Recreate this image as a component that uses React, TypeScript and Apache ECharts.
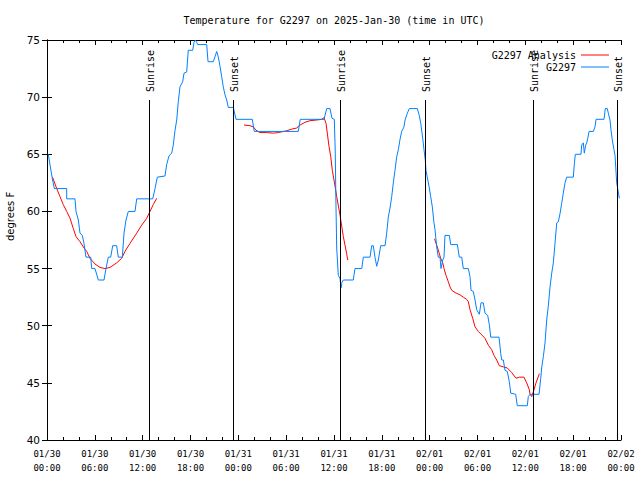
import React, { useEffect, useRef } from "react";
import * as echarts from "echarts";

// Hours since 2025-01-30 00:00 UTC
const xTickLabels = [
  "01/30\n00:00", "01/30\n06:00", "01/30\n12:00", "01/30\n18:00",
  "01/31\n00:00", "01/31\n06:00", "01/31\n12:00", "01/31\n18:00",
  "02/01\n00:00", "02/01\n06:00", "02/01\n12:00", "02/01\n18:00",
  "02/02\n00:00",
];

const sunEventHours = [12.83, 23.38, 36.76, 47.47, 60.9, 71.48];
const sunEventLabels = ["Sunrise", "Sunset", "Sunrise", "Sunset", "Sunrise", "Sunset"];

const observedTemps: [number, number][] = [
  [0.16, 65.0], [0.66, 62.9], [0.92, 62.0], [2.47, 62.0], [2.47, 61.1], [3.51, 61.1], [3.64, 60.0], [3.93, 59.25],
  [4.14, 58.1], [4.43, 57.9], [4.64, 57.2], [4.89, 56.0], [5.48, 56.0], [5.61, 55.0], [6.02, 55.0], [6.44, 54.0],
  [7.15, 54.0], [7.4, 55.0], [7.69, 56.0], [7.99, 56.0], [8.24, 57.0], [8.74, 57.0], [8.94, 56.0], [9.45, 56.0],
  [9.66, 58.1], [9.91, 59.25], [10.2, 60.0], [11.04, 60.0], [11.25, 61.1], [13.26, 61.1], [13.55, 62.0], [13.84, 63.0],
  [14.8, 63.1], [15.01, 64.1], [15.3, 64.85], [15.64, 65.1], [15.84, 65.8], [16.06, 67.1], [16.27, 68.0], [16.47, 69.6],
  [16.68, 70.9], [17.02, 71.35], [17.19, 72.1], [17.52, 72.2], [17.72, 74.1], [18.28, 74.1], [18.44, 74.8], [18.6, 75.0],
  [18.78, 74.8], [18.9, 74.6], [20.03, 74.6], [20.2, 73.1], [20.86, 73.1], [21.29, 74.0], [21.49, 73.5], [21.7, 72.7],
  [21.91, 71.8], [22.11, 70.9], [22.33, 70.2], [22.54, 69.75], [22.74, 69.1], [23.37, 69.1], [23.71, 68.06], [25.75, 68.06],
  [26.0, 67.0], [31.52, 67.0], [31.77, 68.06], [34.75, 68.06], [35.09, 69.0], [35.5, 69.0], [35.75, 68.15], [36.04, 68.06],
  [36.16, 65.1], [36.25, 60.4], [36.34, 56.8], [36.54, 54.4], [36.75, 54.15], [36.88, 53.3], [37.0, 53.8], [37.17, 54.0],
  [38.42, 54.0], [38.63, 55.0], [39.48, 55.0], [39.68, 56.0], [40.52, 56.0], [40.73, 57.0], [40.93, 57.0], [41.14, 56.0],
  [41.36, 55.2], [41.56, 55.75], [41.86, 57.0], [42.4, 57.0], [42.61, 58.1], [42.81, 59.5], [43.03, 60.3], [43.24, 61.3],
  [43.44, 62.5], [43.65, 63.6], [43.87, 64.8], [44.07, 65.4], [44.28, 66.3], [44.49, 67.0], [44.78, 67.4], [44.91, 68.0],
  [45.2, 68.6], [45.45, 69.0], [46.45, 69.0], [46.7, 68.4], [46.88, 67.7], [47.13, 66.4], [47.29, 65.4], [47.45, 64.5],
  [47.54, 63.6], [47.7, 63.0], [47.92, 62.2], [48.13, 61.3], [48.33, 60.4], [48.54, 59.0], [48.67, 58.4], [48.88, 56.9],
  [49.08, 56.0], [49.3, 56.0], [49.42, 55.0], [49.64, 55.75], [49.8, 56.0], [49.92, 57.9], [50.47, 57.9], [50.64, 57.1],
  [51.47, 57.1], [51.72, 56.0], [52.02, 56.0], [52.22, 55.0], [52.85, 55.0], [53.06, 54.3], [53.19, 53.1], [53.47, 53.0],
  [53.69, 52.25], [53.9, 51.4], [54.23, 51.0], [54.44, 52.0], [54.73, 52.0], [54.94, 51.1], [55.28, 50.9], [55.48, 50.1],
  [55.66, 49.0], [56.7, 49.0], [56.91, 47.6], [57.04, 47.0], [57.24, 47.0], [57.45, 46.1], [57.74, 46.0], [57.99, 45.1],
  [58.17, 44.1], [58.79, 44.0], [58.99, 43.0], [60.25, 43.0], [60.37, 43.8], [60.59, 44.0], [61.72, 44.0], [61.93, 45.4],
  [62.06, 46.4], [62.26, 47.3], [62.47, 48.5], [62.68, 50.5], [62.88, 51.7], [63.1, 53.4], [63.31, 54.6], [63.51, 55.5],
  [63.72, 57.2], [63.94, 59.0], [64.14, 59.1], [64.35, 59.8], [64.56, 60.7], [64.76, 61.6], [64.98, 62.5], [65.19, 63.0],
  [66.02, 63.0], [66.14, 64.1], [66.27, 65.0], [66.98, 65.0], [67.07, 65.8], [67.27, 66.0], [67.4, 65.1], [67.57, 65.8],
  [67.7, 66.0], [67.83, 66.4], [67.99, 67.0], [68.53, 67.0], [68.74, 67.4], [68.87, 68.06], [69.87, 68.06], [70.03, 69.0],
  [70.28, 69.0], [70.41, 68.6], [70.62, 68.0], [70.75, 67.1], [70.91, 66.25], [71.12, 65.4], [71.25, 64.9], [71.46, 62.5],
  [71.66, 61.7], [71.79, 61.15],
];

const analysisSeg1: [number, number][] = [
  [0.69, 63.0], [1.22, 62.0], [1.63, 61.3], [2.04, 60.6], [2.47, 60.0], [2.89, 59.4], [3.3, 58.5], [3.64, 57.8],
  [4.14, 57.35], [4.55, 56.9], [4.98, 56.5], [5.39, 55.9], [6.02, 55.4], [6.65, 55.1], [7.28, 55.0], [7.9, 55.1],
  [8.74, 55.5], [9.37, 55.9], [9.78, 56.5], [10.41, 57.2], [11.25, 58.1], [11.88, 58.8], [12.51, 59.4], [12.92, 60.0],
  [13.33, 60.6], [13.76, 61.15],
];

const analysisSeg2: [number, number][] = [
  [24.71, 67.56], [25.46, 67.5], [25.88, 67.4], [26.22, 67.1], [26.72, 66.9], [27.56, 66.9], [28.39, 66.85], [29.01, 66.9],
  [30.07, 67.06], [30.69, 67.2], [31.32, 67.3], [31.74, 67.56], [32.36, 67.8], [32.99, 67.94], [33.83, 68.0], [34.46, 68.06],
  [34.75, 68.2], [35.0, 67.7], [35.16, 66.85], [35.37, 65.7], [35.59, 64.8], [35.79, 63.6], [36.0, 62.75], [36.34, 61.3],
  [36.75, 59.7], [37.17, 57.8], [37.59, 56.3], [37.72, 55.75],
];

const analysisSeg3: [number, number][] = [
  [48.61, 57.6], [48.96, 56.9], [49.21, 56.3], [49.39, 55.9], [49.64, 55.5], [49.8, 55.0], [50.05, 54.4], [50.34, 53.85],
  [50.55, 53.4], [50.77, 53.1], [51.18, 52.9], [51.81, 52.7], [52.22, 52.5], [52.65, 52.3], [52.85, 52.1], [53.06, 51.4],
  [53.4, 50.65], [53.69, 49.9], [54.1, 49.5], [54.53, 49.2], [54.94, 48.9], [55.36, 48.3], [55.78, 47.9], [56.07, 47.4],
  [56.41, 47.0], [56.74, 46.5], [57.24, 46.4], [57.74, 46.3], [58.29, 45.9], [58.83, 45.4], [59.25, 45.5], [59.83, 45.5],
  [60.17, 45.0], [60.5, 44.4], [60.59, 44.0], [60.8, 43.8], [61.0, 44.2], [61.34, 45.0], [61.76, 45.8],
];

const MONO = "DejaVu Sans Mono";
const RED = "#ff0000";
const BLUE = "#0080ff";

export default function App() {
  const ref = useRef<HTMLDivElement>(null);

  useEffect(() => {
    if (!ref.current) return;
    const chart = echarts.init(ref.current, null, { renderer: "svg" });

    const analysisLine = (data: [number, number][]) => ({
      name: "G2297 Analysis",
      type: "line",
      data,
      symbol: "none",
      lineStyle: { color: RED, width: 1 },
      itemStyle: { color: RED },
      xAxisIndex: 0,
      yAxisIndex: 0,
      z: 2,
    });

    const axisCommon = {
      axisLine: { show: true, lineStyle: { color: "#000", width: 1 } },
      splitLine: { show: false },
    };

    const legendCommon = {
      padding: 0,
      right: 31,
      align: "right",
      icon: "rect",
      itemWidth: 28,
      itemHeight: 1,
      textStyle: { fontFamily: MONO, fontSize: 10, color: "#000" },
      selectedMode: false,
    };

    chart.setOption({
      animation: false,
      backgroundColor: "#fff",
      grid: { left: 47, right: 19, top: 40, bottom: 40, containLabel: false },
      graphic: [
        {
          type: "text",
          x: 334,
          y: 20,
          style: {
            text: "Temperature for G2297 on 2025-Jan-30 (time in UTC)",
            font: `10px "${MONO}"`,
            fill: "#000",
            align: "center",
            verticalAlign: "middle",
          },
        },
        {
          type: "text",
          x: 10,
          y: 241,
          rotation: Math.PI / 2,
          style: {
            text: "degrees F",
            font: '10px "DejaVu Sans"',
            fill: "#000",
            align: "left",
            verticalAlign: "middle",
          },
        },
      ],
      legend: [
        { ...legendCommon, data: ["G2297 Analysis"], top: 50 },
        { ...legendCommon, data: ["G2297"], top: 62 },
      ],
      xAxis: [
        {
          type: "value",
          position: "bottom",
          min: 0,
          max: 72,
          interval: 6,
          ...axisCommon,
          axisTick: { show: true, inside: true, length: 5, lineStyle: { color: "#000" } },
          minorTick: { show: true, splitNumber: 3, length: 3, lineStyle: { color: "#000" } },
          axisLabel: {
            show: true,
            margin: 7,
            fontFamily: MONO,
            fontSize: 9,
            lineHeight: 14,
            color: "#000",
            formatter: (v: number) => xTickLabels[Math.round(v / 6)] ?? "",
          },
        },
        {
          type: "value",
          position: "top",
          min: 0,
          max: 72,
          interval: 6,
          ...axisCommon,
          axisTick: { show: true, inside: true, length: 5, lineStyle: { color: "#000" } },
          minorTick: { show: true, splitNumber: 3, length: 3, lineStyle: { color: "#000" } },
          axisLabel: { show: false },
        },
      ],
      yAxis: [
        {
          type: "value",
          position: "left",
          min: 40,
          max: 75,
          interval: 5,
          ...axisCommon,
          axisTick: { show: true, inside: true, length: 5, lineStyle: { color: "#000" } },
          axisLabel: {
            show: true,
            margin: 7,
            fontFamily: "DejaVu Sans",
            fontSize: 10.5,
            color: "#000",
          },
        },
        {
          type: "value",
          position: "right",
          min: 40,
          max: 75,
          interval: 5,
          ...axisCommon,
          axisTick: { show: true, inside: true, length: 5, lineStyle: { color: "#000" } },
          axisLabel: { show: false },
        },
      ],
      series: [
        analysisLine(analysisSeg1),
        analysisLine(analysisSeg2),
        analysisLine(analysisSeg3),
        {
          name: "G2297",
          type: "line",
          data: observedTemps,
          symbol: "none",
          lineStyle: { color: BLUE, width: 1 },
          itemStyle: { color: BLUE },
          z: 3,
        },
        {
          name: "sun",
          type: "custom",
          data: sunEventHours.map((h) => [h, 40]),
          clip: false,
          z: 4,
          silent: true,
          renderItem: (params: any, api: any) => {
            const h = api.value(0);
            const bottom = api.coord([h, 40]);
            const top = api.coord([h, 75]);
            const x = Math.round(bottom[0]) + 0.5;
            const lineTop = top[1] + 60;
            return {
              type: "group",
              children: [
                {
                  type: "line",
                  shape: { x1: x, y1: bottom[1], x2: x, y2: lineTop },
                  style: { stroke: "#000", lineWidth: 1 },
                },
                {
                  type: "text",
                  x: x + 1,
                  y: lineTop - 8,
                  rotation: Math.PI / 2,
                  style: {
                    text: sunEventLabels[params.dataIndex],
                    font: `10px "${MONO}"`,
                    fill: "#000",
                    align: "left",
                    verticalAlign: "middle",
                  },
                },
              ],
            };
          },
        },
      ],
    });

    return () => chart.dispose();
  }, []);

  return <div ref={ref} style={{ width: 640, height: 480, position: "absolute", left: 0, top: 0 }} />;
}
